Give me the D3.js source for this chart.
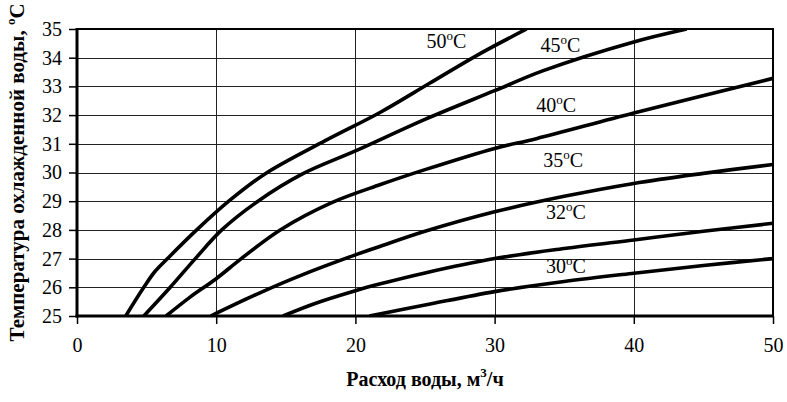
<!DOCTYPE html>
<html>
<head>
<meta charset="utf-8">
<script src="https://cdn.jsdelivr.net/npm/d3@7"></script>
<style>
	body { margin: 0; background: #fff; }
	svg text { font-family: "Liberation Serif", "Times New Roman", Times, serif; fill: #000; }
</style>
</head>
<body>
<div class="chart"></div>
<script>
var xTicks = [0, 10, 20, 30, 40, 50];
var yTicks = [25, 26, 27, 28, 29, 30, 31, 32, 33, 34, 35];

// inlet temperature of each curve, and flow (m3/h) vs outlet temperature points
var temps = [50, 45, 40, 35, 32, 30];
var curve50 = [[3.5, 25], [4.8, 26], [5.6, 26.55], [6.6, 27.05], [8.6, 28], [10.9, 29], [13.5, 29.95], [17.8, 31.1], [21.8, 32.1], [25.3, 33.1], [28.8, 34.1], [32.3, 35]];
var curve45 = [[4.8, 25], [6.7, 26], [8.5, 27], [10.4, 28], [13, 29], [16.2, 29.95], [20, 30.75], [25, 31.85], [30, 32.85], [33.5, 33.55], [40, 34.55], [43.8, 35]];
var curve40 = [[6.4, 25], [8.1, 25.65], [10, 26.3], [11.8, 27], [14.6, 28], [18.3, 28.95], [21.8, 29.58], [25, 30.1], [30, 30.84], [33, 31.18], [40, 32.07], [50, 33.28]];
var curve35 = [[9.6, 25], [13.1, 25.8], [16, 26.4], [20, 27.13], [21.8, 27.43], [25, 27.95], [30, 28.63], [35, 29.17], [40, 29.62], [45, 29.97], [50, 30.28]];
var curve32 = [[14.8, 25], [17, 25.42], [20, 25.88], [21.8, 26.12], [25, 26.5], [30, 27.0], [35, 27.35], [40, 27.65], [45, 27.95], [50, 28.23]];
var curve30 = [[21, 25], [25, 25.38], [30, 25.85], [35, 26.2], [40, 26.49], [45, 26.76], [50, 27.0]];
var curves = [curve50, curve45, curve40, curve35, curve32, curve30];

var width = 787, height = 402;
var margin = { top: 29, right: 14, bottom: 86, left: 77 };

// where each curve label sits (x, y in data units)
var labelAt = [[25.1, 34.34], [33.3, 34.2], [33.0, 32.1], [33.5, 30.2], [33.7, 28.37], [33.7, 26.49]];

var svg = d3.select(".chart").append("svg")
	.attr("width", width)
	.attr("height", height);

var x = d3.scaleLinear().domain([0, 50]).range([margin.left, width - margin.right]);
var y = d3.scaleLinear().domain([25, 35]).range([height - margin.bottom, margin.top]);

svg.append("defs").append("clipPath")
	.attr("id", "plot")
	.append("rect")
	.attr("x", x(0))
	.attr("y", y(35))
	.attr("width", x(50) - x(0))
	.attr("height", y(25) - y(35));

// grid
svg.append("g")
	.selectAll("line")
	.data(yTicks.slice(1, -1))
	.enter()
	.append("line")
	.attr("x1", x(0))
	.attr("x2", x(50))
	.attr("y1", function(d) { return Math.round(y(d)) + 0.5; })
	.attr("y2", function(d) { return Math.round(y(d)) + 0.5; })
	.attr("stroke", "#222")
	.attr("stroke-width", 1);

svg.append("g")
	.selectAll("line")
	.data(xTicks.slice(1, -1))
	.enter()
	.append("line")
	.attr("x1", function(d) { return Math.round(x(d)) + 0.5; })
	.attr("x2", function(d) { return Math.round(x(d)) + 0.5; })
	.attr("y1", y(35))
	.attr("y2", y(25))
	.attr("stroke", "#222")
	.attr("stroke-width", 1);

// top and right border
svg.append("path")
	.attr("d", "M" + x(0) + "," + y(35) + "H" + x(50) + "V" + y(25))
	.attr("fill", "none")
	.attr("stroke", "#000")
	.attr("stroke-width", 2);

// curves
var line = d3.line()
	.x(function(d) { return x(d[0]); })
	.y(function(d) { return y(d[1]); })
	.curve(d3.curveCatmullRom.alpha(0.5));

svg.append("g")
	.attr("clip-path", "url(#plot)")
	.selectAll("path")
	.data(curves)
	.enter()
	.append("path")
	.attr("d", line)
	.attr("fill", "none")
	.attr("stroke", "#000")
	.attr("stroke-width", 3.6)
	.attr("stroke-linejoin", "round");

// axes
var xAxis = svg.append("g")
	.attr("transform", "translate(0," + y(25) + ")")
	.call(d3.axisBottom(x).tickValues(xTicks).tickSize(8).tickPadding(14));

var yAxis = svg.append("g")
	.attr("transform", "translate(" + x(0) + ",0)")
	.call(d3.axisLeft(y).tickValues(yTicks).tickSize(8).tickPadding(7));

[xAxis, yAxis].forEach(function(ax) {
	ax.attr("font-family", null).attr("font-size", null);
	ax.select(".domain").remove();
	ax.selectAll(".tick line").attr("stroke", "#000").attr("stroke-width", 1.5);
	ax.selectAll(".tick text").attr("font-size", 20);
});

svg.append("line")
	.attr("x1", x(0)).attr("x2", x(0))
	.attr("y1", y(35) - 1).attr("y2", y(25) + 1.5)
	.attr("stroke", "#000").attr("stroke-width", 3);
svg.append("line")
	.attr("x1", x(0) - 1.5).attr("x2", x(50) + 1)
	.attr("y1", y(25)).attr("y2", y(25))
	.attr("stroke", "#000").attr("stroke-width", 3);

// curve labels
var labels = svg.append("g")
	.selectAll("text")
	.data(temps)
	.enter()
	.append("text")
	.attr("x", function(d, i) { return x(labelAt[i][0]); })
	.attr("y", function(d, i) { return y(labelAt[i][1]); })
	.attr("font-size", 20);
labels.append("tspan").text(function(d) { return d; });
labels.append("tspan").attr("font-size", 13).attr("dy", -8).text("o");
labels.append("tspan").attr("dy", 8).text("C");

// axis titles
var xTitle = svg.append("text")
	.attr("x", (x(0) + x(50)) / 2)
	.attr("y", 386)
	.attr("text-anchor", "middle")
	.attr("font-size", 20)
	.attr("font-weight", "bold");
xTitle.append("tspan").text("Расход воды, м");
xTitle.append("tspan").attr("font-size", 13).attr("dy", -9).text("3");
xTitle.append("tspan").attr("dy", 9).text("/ч");

var yTitle = svg.append("text")
	.attr("transform", "translate(24," + (y(25) + y(35)) / 2 + ") rotate(-90)")
	.attr("text-anchor", "middle")
	.attr("font-size", 21)
	.attr("font-weight", "bold");
yTitle.append("tspan").text("Температура охлажденной воды, ");
yTitle.append("tspan").attr("font-size", 13).attr("dy", -9).text("o");
yTitle.append("tspan").attr("dy", 9).text("C");
</script>
</body>
</html>
